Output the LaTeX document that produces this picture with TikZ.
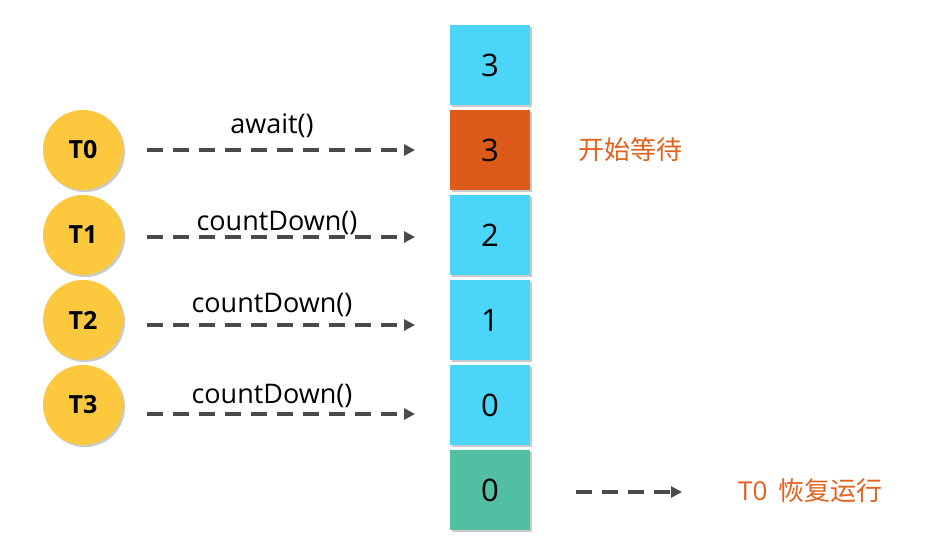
\documentclass[tikz,border=0pt]{standalone}
\usepackage{fontspec}
\setmainfont{Open Sans}
\newfontfamily\cjk{Noto Sans CJK SC}
\usetikzlibrary{shadows,arrows.meta}
\definecolor{cyanbox}{HTML}{4BD5F8}
\definecolor{orangebox}{HTML}{DC5A1A}
\definecolor{tealbox}{HTML}{52BFA3}
\definecolor{yellowc}{HTML}{FCC93E}
\definecolor{txtorange}{HTML}{E0621E}
\definecolor{arrgray}{HTML}{4A4A4A}
\tikzset{
  cell/.style={minimum width=80pt,minimum height=80pt,inner sep=0pt,font=\fontsize{31}{34}\selectfont,
    drop shadow={shadow xshift=2pt,shadow yshift=-2pt,opacity=0.35,fill=black!60}},
  thread/.style={circle,fill=yellowc,minimum size=80pt,inner sep=0pt,font=\bfseries\fontsize{25}{28}\selectfont,
    drop shadow={shadow xshift=2pt,shadow yshift=-2pt,opacity=0.35,fill=black!60}},
  darrow/.style={draw=arrgray,line width=3.5pt,dash pattern=on 16pt off 10pt,-{Triangle[length=11pt,width=11pt]}},
  lbl/.style={font=\fontsize{27}{30}\selectfont,inner sep=0pt},
  note/.style={text=txtorange,font=\cjk\fontsize{26}{30}\selectfont,inner sep=0pt,anchor=west}
}
\begin{document}
\begin{tikzpicture}[x=1pt,y=-1pt]
\useasboundingbox (0,0) rectangle (925,549);
\node[cell,fill=cyanbox] (b0) at (490,65) {3};
\node[cell,fill=orangebox] (b1) at (490,150) {3};
\node[cell,fill=cyanbox] (b2) at (490,235) {2};
\node[cell,fill=cyanbox] (b3) at (490,320) {1};
\node[cell,fill=cyanbox] (b4) at (490,405) {0};
\node[cell,fill=tealbox] (b5) at (490,490) {0};

\node[thread] (t0) at (83,150) {T0};
\node[thread] (t1) at (83,235) {T1};
\node[thread] (t2) at (83,320) {T2};
\node[thread] (t3) at (83,405) {T3};

\coordinate (s0) at (147,150); \coordinate (e0) at (415,150);
\coordinate (s1) at (147,237); \coordinate (e1) at (415,237);
\coordinate (s2) at (147,325); \coordinate (e2) at (415,325);
\coordinate (s3) at (147,414); \coordinate (e3) at (415,414);
\draw[darrow] (s0) -- (e0);
\draw[darrow] (s1) -- (e1);
\draw[darrow] (s2) -- (e2);
\draw[darrow] (s3) -- (e3);

\node[lbl] (l0) at (272,126) {await()};
\node[lbl] (l1) at (277,223) {countDown()};
\node[lbl] (l2) at (272,305) {countDown()};
\node[lbl] (l3) at (272,396) {countDown()};

\node[note] (n0) at (578,150) {开始等待};
\coordinate (s5) at (576,492); \coordinate (e5) at (682,492);
\draw[darrow] (s5) -- (e5);
\node[note,font=\fontsize{26}{30}\selectfont] (n1) at (738,491) {T0\hspace{11pt}{\cjk 恢复运行}};
\end{tikzpicture}
\end{document}
